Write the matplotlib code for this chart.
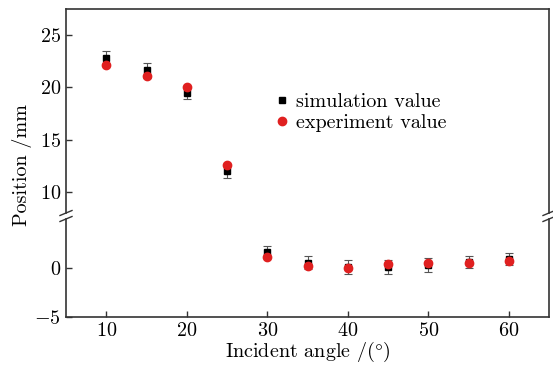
import numpy as np
import matplotlib
matplotlib.use("Agg")
import matplotlib.pyplot as plt
from matplotlib.lines import Line2D

plt.rcParams['font.family'] = 'serif'
plt.rcParams['font.serif'] = ['cmr10', 'DejaVu Serif']
plt.rcParams['mathtext.fontset'] = 'cm'
plt.rcParams['axes.formatter.use_mathtext'] = True
plt.rcParams['font.size'] = 14.5

# data
angle = [10, 15, 20, 25, 30, 35, 40, 45, 50, 55, 60]
sim_pos = [22.8, 21.65, 19.45, 12.0, 1.63, 0.55, 0.1, 0.1, 0.27, 0.6, 0.92]
sim_err = [0.65, 0.7, 0.6, 0.7, 0.6, 0.65, 0.7, 0.7, 0.7, 0.65, 0.65]
exp_pos = [22.13, 21.1, 20.0, 12.55, 1.12, 0.24, 0.0, 0.45, 0.5, 0.5, 0.71]

W, H = 553, 366
fig = plt.figure(figsize=(W / 100, H / 100), dpi=100)

L, R = 66, 549
ax_top = fig.add_axes([L / W, 1 - 213 / H, (R - L) / W, (213 - 9) / H])
ax_bot = fig.add_axes([L / W, 1 - 317 / H, (R - L) / W, (317 - 219) / H], sharex=ax_top)

spine_col = '#333333'
for ax in (ax_top, ax_bot):
    ax.errorbar(angle, sim_pos, yerr=sim_err, fmt='none', ecolor='#555555',
                elinewidth=0.8, capsize=3, capthick=0.8, zorder=2)
    ax.plot(angle, sim_pos, 's', color='black', ms=5, zorder=3)
    ax.plot(angle, exp_pos, 'o', color='#e02020', ms=6, zorder=4)
    for s in ax.spines.values():
        s.set_color(spine_col)
        s.set_linewidth(1.2)
    ax.tick_params(direction='in', length=4.5, width=1.0, color=spine_col)

ax_top.set_ylim(8, 27.5)
ax_top.set_yticks([10, 15, 20, 25])
ax_top.spines['bottom'].set_visible(False)
ax_top.tick_params(axis='x', bottom=False, labelbottom=False)

ax_bot.set_ylim(-5, 5)
ax_bot.set_yticks([-5, 0])
ax_bot.spines['top'].set_visible(False)
ax_bot.set_xlim(5, 65)
ax_bot.set_xticks([10, 20, 30, 40, 50, 60])
ax_bot.set_xlabel(r'Incident angle /($\degree$)', labelpad=0)

fig.text(22 / W, 1 - 165 / H, 'Position /mm', rotation=90, ha='center', va='center')

# break marks on both spines
for xp in (L, R):
    for yp in (213, 219):
        x0, x1 = (xp - 6) / W, (xp + 6) / W
        y0, y1 = 1 - (yp + 2.5) / H, 1 - (yp - 2.5) / H
        fig.add_artist(Line2D([x0, x1], [y0, y1], color=spine_col, lw=1.0))

handles = [Line2D([], [], marker='s', color='black', ls='none', ms=5),
           Line2D([], [], marker='o', color='#e02020', ls='none', ms=6)]
ax_top.legend(handles, ['simulation value', 'experiment value'], frameon=False,
              loc='upper left', bbox_to_anchor=(0.413, 0.64), borderpad=0,
              handlelength=0.6, handletextpad=0.4, labelspacing=0.15)

fig.savefig('out.png', dpi=100)
